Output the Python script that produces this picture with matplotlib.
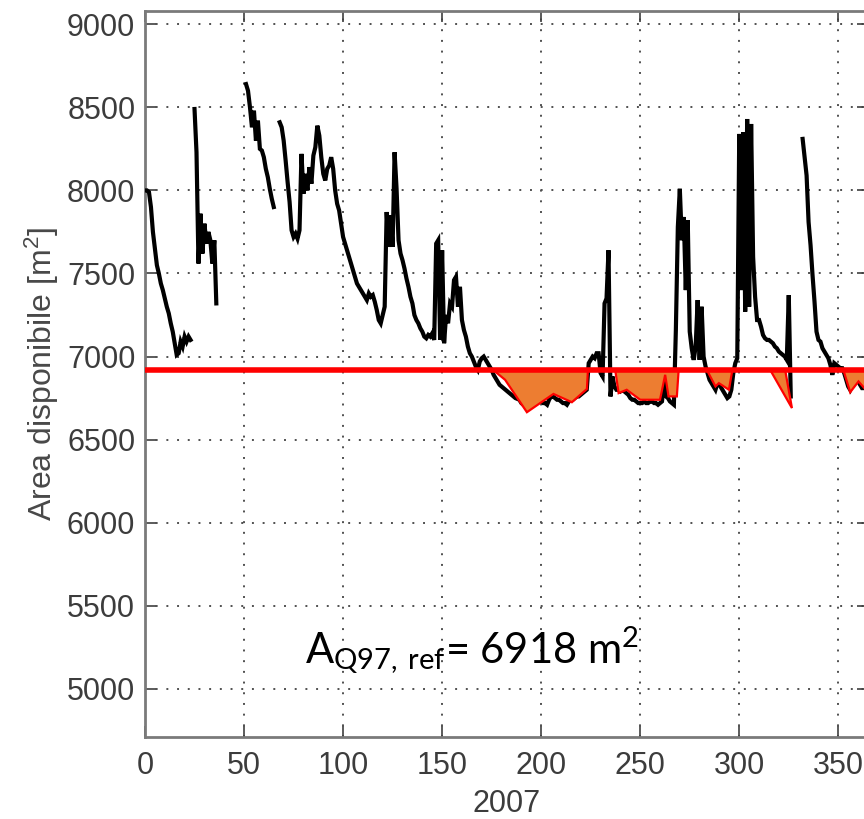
import numpy as np
import matplotlib
matplotlib.use("Agg")
import matplotlib.pyplot as plt

nan = np.nan

# Daily available area through 2007 (m^2); gaps are missing days
area = [
    8000, 8000, 7990, 7900, 7750, 7650, 7550, 7500, 7440, 7400,
    7350, 7300, 7260, 7200, 7150, 7080, 7010, 7020, 7090, 7060,
    7120, 7090, 7120, 7100, nan, 8490, 8230, 7560, 7860, 7620,
    7800, 7680, 7750, 7700, 7560, 7700, 7320, nan, nan, nan,
    nan, nan, nan, nan, nan, nan, nan, nan, nan, nan,
    nan, 8640, 8600, 8500, 8380, 8480, 8300, 8420, 8250, 8240,
    8200, 8130, 8080, 8010, 7950, 7900, nan, nan, 8410, 8380,
    8300, 8180, 8050, 7930, 7760, 7720, 7740, 7710, 7760, 8220,
    7980, 8100, 8000, 8140, 8040, 8210, 8260, 8390, 8330, 8200,
    8100, 8060, 8130, 8150, 8200, 8130, 8000, 7920, 7880, 7800,
    7720, 7680, 7640, 7600, 7560, 7520, 7480, 7440, 7420, 7400,
    7380, 7360, 7340, 7380, 7360, 7370, 7330, 7280, 7220, 7200,
    7250, 7300, 7870, 7660, 7850, 7660, 8230, 8010, 7700, 7620,
    7580, 7530, 7470, 7420, 7360, 7320, 7250, 7220, 7200, 7170,
    7150, 7120, 7110, 7130, 7120, 7140, 7100, 7680, 7700, 7100,
    7640, 7080, 7250, 7200, 7320, 7300, 7460, 7480, 7300, 7420,
    7220, 7160, 7120, 7060, 7020, 7000, 6970, 6940, 6920, 6970,
    6990, 7000, 6980, 6960, 6940, 6920, 6890, 6870, 6850, 6830,
    6820, 6810, 6800, 6790, 6780, 6770, 6760, 6750, 6745, 6740,
    6720, 6710, 6700, 6690, 6710, 6700, 6710, 6730, 6740, 6740,
    6730, 6720, 6720, 6710, 6740, 6760, 6760, 6750, 6740, 6740,
    6730, 6720, 6720, 6710, 6730, 6740, 6740, 6750, 6760, 6760,
    6770, 6780, 6790, 6800, 6960, 6980, 7000, 6990, 7020, 7020,
    6900, 6880, 7320, 7350, 7640, 6760, 6880, 6820, 6800, 6800,
    6790, 6800, 6790, 6780, 6770, 6750, 6740, 6740, 6730, 6720,
    6720, 6720, 6730, 6720, 6720, 6730, 6730, 6720, 6720, 6710,
    6720, 6730, 6860, 6760, 6750, 6730, 6720, 6710, 7160, 7780,
    8010, 7700, 7840, 7400, 7820, 7150, 7050, 6980, 7060, 7340,
    6980, 7300, 7000, 6940, 6900, 6860, 6840, 6820, 6800, 6840,
    6830, 6810, 6790, 6770, 6750, 6760, 6800, 6900, 6960, 6990,
    8340, 7400, 8350, 7270, 8430, 7300, 8400, 7600, 7360, 7220,
    7220, 7180, 7130, 7110, 7100, 7100, 7090, 7080, 7060, 7050,
    7030, 7020, 7010, 7000, 6980, 7370, 6760, nan, nan, nan,
    nan, nan, 8310, 8200, 8090, 7810, 7670, 7490, 7330, 7150,
    7100, 7090, 7050, 7030, 7010, 6990, 6950, 6890, 6960, 6950,
    6940, 6930, 6930, 6900, 6860, 6820, 6800, 6830, 6850, 6870,
    6850, 6830, 6810, 6810, 6820,
]
days = np.arange(len(area))

# Reference threshold A_Q97,ref
a_ref = 6918

# Deficit areas below the threshold (lower outline of each shaded patch)
deficit_x = [
    [175.9, 181.8, 192.8, 206.2, 215.5, 223.1, 223.6],
    [237.4, 239.1, 243.2, 250.0, 260.0, 262.6, 264.3, 268.5, 269.4],
    [283.7, 288.0, 289.7, 294.8, 296.5],
    [315.7, 326.6, 323.2],
    [352.6, 356.0, 360.2, 363.9, 367.0, 367.0],
]
deficit_y = [
    [6918, 6860, 6665, 6775, 6725, 6805, 6918],
    [6918, 6780, 6800, 6740, 6740, 6890, 6760, 6760, 6918],
    [6918, 6820, 6840, 6800, 6918],
    [6918, 6690, 6918],
    [6918, 6785, 6850, 6800, 6800, 6918],
]

x_ticks = [0, 50, 100, 150, 200, 250, 300, 350]
y_ticks = [5000, 5500, 6000, 6500, 7000, 7500, 8000, 8500, 9000]

W, H = 864, 819
fig = plt.figure(figsize=(W / 100, H / 100), dpi=100)
ax = fig.add_axes([145 / W, (H - 737) / H, (868 - 145) / W, (737 - 11) / H])

tick_font = dict(family="Liberation Sans", size=22, color="#3c3c3c")

ax.plot(days, area, color="black", lw=3.0, zorder=3, solid_joinstyle="miter")
for xs, ys in zip(deficit_x, deficit_y):
    ax.fill(xs, ys, facecolor="#ed7d31", edgecolor="#ff0000", lw=1.6, zorder=4)
ax.axhline(a_ref, color="#ff0000", lw=4.0, zorder=5)

ax.set_xlim(0, 365)
ax.set_ylim(4710, 9080)
ax.set_xticks(x_ticks)
ax.set_yticks(y_ticks)
ax.set_xticklabels([str(v) for v in x_ticks], **tick_font)
ax.set_yticklabels([str(v) for v in y_ticks], **tick_font)
ax.tick_params(direction="in", length=8, width=1.2, color="#404040",
               top=True, right=True)
ax.tick_params(axis="x", pad=10)
ax.tick_params(axis="y", pad=7)

ax.grid(True, color="#505050", lw=1.4, linestyle=(0, (1, 4.5)))
for s in ax.spines.values():
    s.set_color("#7a7a7a")
    s.set_linewidth(2.0)

ax.set_xlabel("2007", labelpad=6, **tick_font)
ax.set_ylabel("Area disponibile [m$^2$]", labelpad=4,
              family="Liberation Sans", size=23, color="#484848")

plt.rcParams["mathtext.fontset"] = "custom"
plt.rcParams["mathtext.rm"] = "Lato"
plt.rcParams["mathtext.default"] = "regular"
ax.text(80.8, 5156, "A$_{Q97,\\,ref}$= 6918 m$^2$", family="Lato",
        size=30, color="black", ha="left", va="baseline", zorder=6)

fig.savefig("out.png", dpi=100)
